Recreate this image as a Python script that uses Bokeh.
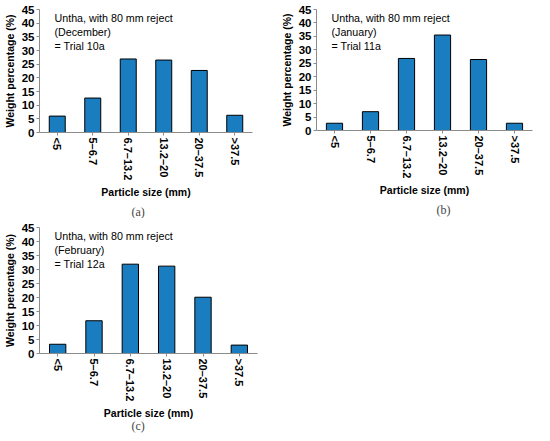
from bokeh.plotting import figure
from bokeh.models import Label, Title, FixedTicker
from bokeh.layouts import column, row, Spacer
from bokeh.embed import file_html
from bokeh.resources import INLINE

# particle size classes (mm)
sizes = ["<5", "5\u20136.7", "6.7\u201313.2", "13.2\u201320", "20\u201337.5", ">37.5"]

# weight percentage per size class
trial_10a = [6.0, 12.6, 26.9, 26.5, 22.7, 6.3]
trial_11a = [2.7, 7.0, 26.8, 35.5, 26.4, 2.7]
trial_12a = [3.3, 11.7, 31.9, 31.2, 20.1, 3.0]

months = ["December", "January", "February"]
trials = ["Trial 10a", "Trial 11a", "Trial 12a"]
captions = ["(a)", "(b)", "(c)"]
y_ticks = [0, 5, 10, 15, 20, 25, 30, 35, 40, 45]

SANS = "Liberation Sans"
SERIF = "Liberation Serif"
BLUE = "#1a7dc0"
AXIS = "#8c8c8c"


def make_panel(values, month, trial, caption, fh, left, right, top, bottom, cap_x, cap_gap):
    p = figure(x_range=sizes, y_range=(0, 45), width=267, frame_height=fh,
               output_backend="svg", toolbar_location=None,
               min_border_left=left, min_border_right=right, min_border_top=top,
               min_border_bottom=bottom)
    p.vbar(x=sizes, top=values, width=0.45, fill_color=BLUE,
           line_color="black", line_width=1)

    p.xgrid.visible = False
    p.ygrid.visible = False
    p.outline_line_color = None

    p.yaxis.ticker = FixedTicker(ticks=y_ticks)
    p.yaxis.minor_tick_line_color = None
    p.yaxis.major_tick_in = 0
    p.yaxis.major_tick_out = 3
    p.yaxis.axis_label = "Weight percentage (%)"
    p.yaxis.major_label_text_font_size = "11.5px"

    p.xaxis.axis_label = "Particle size (mm)"
    p.xaxis.major_label_orientation = "vertical"
    p.xaxis.major_tick_in = 0
    p.xaxis.major_tick_out = 3
    p.xaxis.major_label_text_font_size = "11px"

    for ax in (p.xaxis, p.yaxis):
        ax.axis_line_color = AXIS
        ax.major_tick_line_color = AXIS
        ax.major_label_text_font = SANS
        ax.major_label_text_font_style = "bold"
        ax.major_label_text_color = "black"
        ax.axis_label_text_font = SANS
        ax.axis_label_text_font_size = "10.5px"
        ax.axis_label_text_font_style = "bold"
        ax.axis_label_text_color = "black"
        ax.axis_label_standoff = 3
        ax.major_label_standoff = 2

    note = Label(x=15, y=fh - 2, x_units="screen", y_units="screen",
                 text="Untha, with 80 mm reject\n(%s)\n= %s" % (month, trial),
                 text_font=SANS, text_font_size="10.7px", text_color="black",
                 text_baseline="top", text_line_height=1.2)
    p.add_layout(note)

    p.add_layout(Title(text=caption, align="left", offset=cap_x, text_font=SERIF,
                       text_font_size="12px", text_font_style="normal",
                       standoff=cap_gap), "below")
    return p


fa = make_panel(trial_10a, months[0], trials[0], captions[0], 123, 32, 15, 8, 87, 92, 2)
fb = make_panel(trial_11a, months[1], trials[1], captions[1], 121, 49, 2, 9, 87, 120, 2)
fc = make_panel(trial_12a, months[2], trials[2], captions[2], 126, 32, 10, 9, 84, 92, -11)

p = column(row(fa, fb), row(fc, Spacer(width=267, height=10)))

open("out.html", "w").write(file_html(p, INLINE))
